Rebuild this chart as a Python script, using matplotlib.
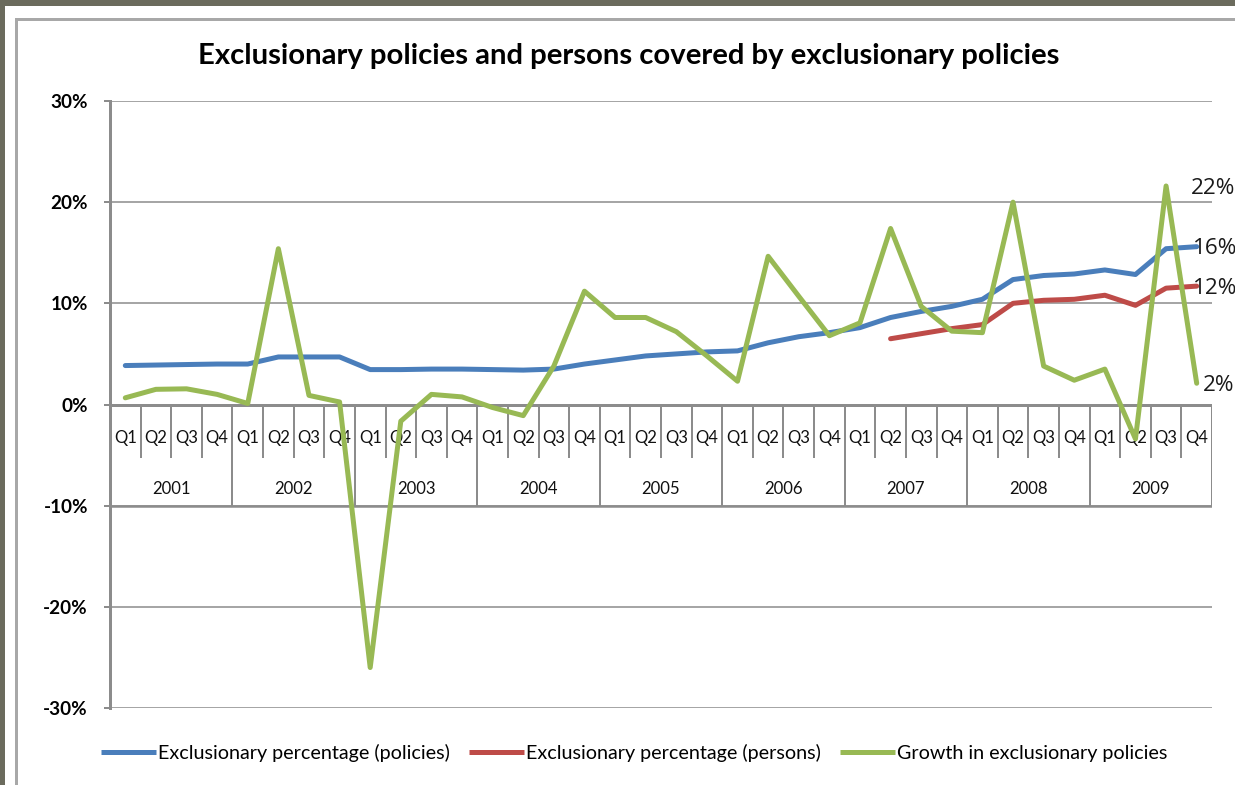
import numpy as np
import matplotlib
matplotlib.use("Agg")
import matplotlib.pyplot as plt
from matplotlib.patches import Rectangle
from matplotlib.lines import Line2D
from matplotlib.textpath import TextPath
from matplotlib.font_manager import FontProperties

# ---------------- data ----------------
years = ["2001", "2002", "2003", "2004", "2005", "2006", "2007", "2008", "2009"]
quarters = ["Q1", "Q2", "Q3", "Q4"]

policies_pct = [3.85, 3.9, 3.95, 4.0,
                4.0, 4.7, 4.7, 4.7,
                3.45, 3.45, 3.5, 3.5,
                3.45, 3.4, 3.5, 4.0,
                4.4, 4.8, 5.0, 5.2,
                5.3, 6.1, 6.7, 7.1,
                7.6, 8.6, 9.2, 9.7,
                10.4, 12.35, 12.75, 12.9,
                13.3, 12.85, 15.4, 15.6]

persons_pct = [np.nan] * 25 + [6.5, 7.0, 7.5, 7.9,
                               10.0, 10.3, 10.4, 10.8,
                               9.8, 11.5, 11.7]

growth_pct = [0.66, 1.5, 1.55, 1.0,
              0.1, 15.4, 0.9, 0.25,
              -26.0, -1.65, 1.0, 0.75,
              -0.3, -1.1, 3.8, 11.2,
              8.6, 8.6, 7.2, 4.8,
              2.3, 14.65, 10.7, 6.8,
              8.07, 17.4, 9.7, 7.25,
              7.1, 20.0, 3.8, 2.4,
              3.5, -3.4, 21.6, 2.1]

series_names = ["Exclusionary percentage (policies)",
                "Exclusionary percentage (persons)",
                "Growth in exclusionary policies"]

point_labels = ["22%", "16%", "12%", "2%"]
yticks = [-30, -20, -10, 0, 10, 20, 30]
title = "Exclusionary policies and persons covered by exclusionary policies"

# ---------------- style ----------------
W, H = 1235, 785
DPI = 100
FONT = "Lato"
BLUE, RED, GREEN = "#4a7ebb", "#be4b48", "#98b954"
GRID = "#a6a6a6"
AXC = "#8c8c8c"
LW = 5 * 72 / DPI  # 5 px


def fx(px):
    return px / W


def fy(py):
    return 1 - py / H


def fit(text, target_px, weight="normal", family=FONT, base=12.0):
    tp = TextPath((0, 0), text, size=base, prop=FontProperties(family=family, weight=weight))
    w = tp.get_extents().width
    return base * target_px / (w * DPI / 72)


plt.rcParams["font.family"] = [FONT, "DejaVu Sans"]

fig = plt.figure(figsize=(W / DPI, H / DPI), dpi=DPI)
fig.patch.set_facecolor("#6b6b5d")
fig.patches.append(Rectangle((fx(5), 0), 1 - fx(5), fy(6), transform=fig.transFigure,
                             facecolor="white", edgecolor="none", zorder=-5))
fig.lines.append(Line2D([fx(15.5), fx(15.5)], [0, fy(19)], transform=fig.transFigure,
                        color="#a8a8a8", lw=3 * 72 / DPI, zorder=-4))
fig.lines.append(Line2D([fx(15.5), 1], [fy(19), fy(19)], transform=fig.transFigure,
                        color="#a8a8a8", lw=3 * 72 / DPI, zorder=-4))

ax = fig.add_axes([fx(110), fy(708), (1212 - 110) / W, (708 - 101) / H])
ax.set_zorder(2)
ax.set_facecolor("none")
n = len(policies_pct)
x = np.arange(n)
ax.set_xlim(-0.5, n - 0.5)
ax.set_ylim(-30, 30)

for s in ["top", "right", "bottom"]:
    ax.spines[s].set_visible(False)
ax.spines["left"].set_color(AXC)
ax.spines["left"].set_linewidth(3 * 72 / DPI)

ax.set_xticks([])
ax.set_yticks(yticks)
ax.set_yticklabels([f"{v}%" for v in yticks])
ysz = fit("30%", 36, weight="bold")
ax.tick_params(axis="y", length=6 * 72 / DPI, width=2 * 72 / DPI, color=AXC,
               pad=16 * 72 / DPI, labelsize=ysz)
for lab in ax.get_yticklabels():
    lab.set_fontweight("bold")

for v in yticks:
    if v == 0:
        continue
    ax.axhline(v, color=GRID, lw=2 * 72 / DPI, zorder=1)
ax.axhline(0, color=AXC, lw=3 * 72 / DPI, zorder=1)

# category table below the zero line
px_per_unit = (708 - 101) / 60.0
q_bottom = -(458 - 405) / px_per_unit
q_text_y = -(439 - 405) / px_per_unit
y_text_y = -(489 - 405) / px_per_unit
for k in range(1, n):
    if k % 4 == 0:
        ax.vlines(k - 0.5, -10, 0, color=AXC, lw=2 * 72 / DPI, zorder=1)
    else:
        ax.vlines(k - 0.5, q_bottom, 0, color=AXC, lw=2 * 72 / DPI, zorder=1)
ax.vlines(n - 0.5, -10, 0, color=AXC, lw=3 * 72 / DPI, zorder=1)
ax.hlines(-10, -0.5, n - 0.5, color=AXC, lw=2.5 * 72 / DPI, zorder=1)

qsz = fit("Q1", 21)
for i in range(n):
    ax.text(i, q_text_y, quarters[i % 4], ha="center", va="center", fontsize=qsz, color="#111111")
ysz2 = fit("2001", 37)
for j, yr in enumerate(years):
    ax.text(4 * j + 1.5, y_text_y, yr, ha="center", va="center", fontsize=ysz2, color="#111111")

kw = dict(lw=LW, solid_capstyle="round", solid_joinstyle="round", zorder=3)
ax.plot(x, policies_pct, color=BLUE, label=series_names[0], **kw)
ax.plot(x, persons_pct, color=RED, label=series_names[1], **kw)
ax.plot(x, growth_pct, color=GREEN, label=series_names[2], **kw)

lsz = fit("22%", 42, family="Open Sans")
anns = [(34, growth_pct[34], 25, -2.6),
        (35, policies_pct[35], -4, -2),
        (35, persons_pct[35], -4, -2),
        (35, growth_pct[35], 6, -2)]
for lab, (xi, yv, dx, dy) in zip(point_labels, anns):
    ax.annotate(lab, (xi, yv), xytext=(dx, dy), textcoords="offset pixels",
                ha="left", va="center", fontsize=lsz, color="#1a1a1a",
                family=["Open Sans", "DejaVu Sans"], zorder=4, annotation_clip=False)

tsz = fit(title, 858, weight="bold")
fig.text(fx(629), fy(56), title, ha="center", va="center", fontsize=tsz, fontweight="bold")

legsz = fit(series_names[0], 289)
fs_px = legsz * DPI / 72
leg = fig.legend(loc="center left", bbox_to_anchor=(fx(101), fy(753)), ncol=3,
                 frameon=False, fontsize=legsz, handlelength=55 / fs_px,
                 handletextpad=2 / fs_px, columnspacing=19 / fs_px,
                 borderpad=0, borderaxespad=0)
for h in leg.get_lines():
    h.set_linewidth(LW)
    h.set_solid_capstyle("butt")

fig.savefig("out.png", dpi=DPI, facecolor=fig.get_facecolor())
